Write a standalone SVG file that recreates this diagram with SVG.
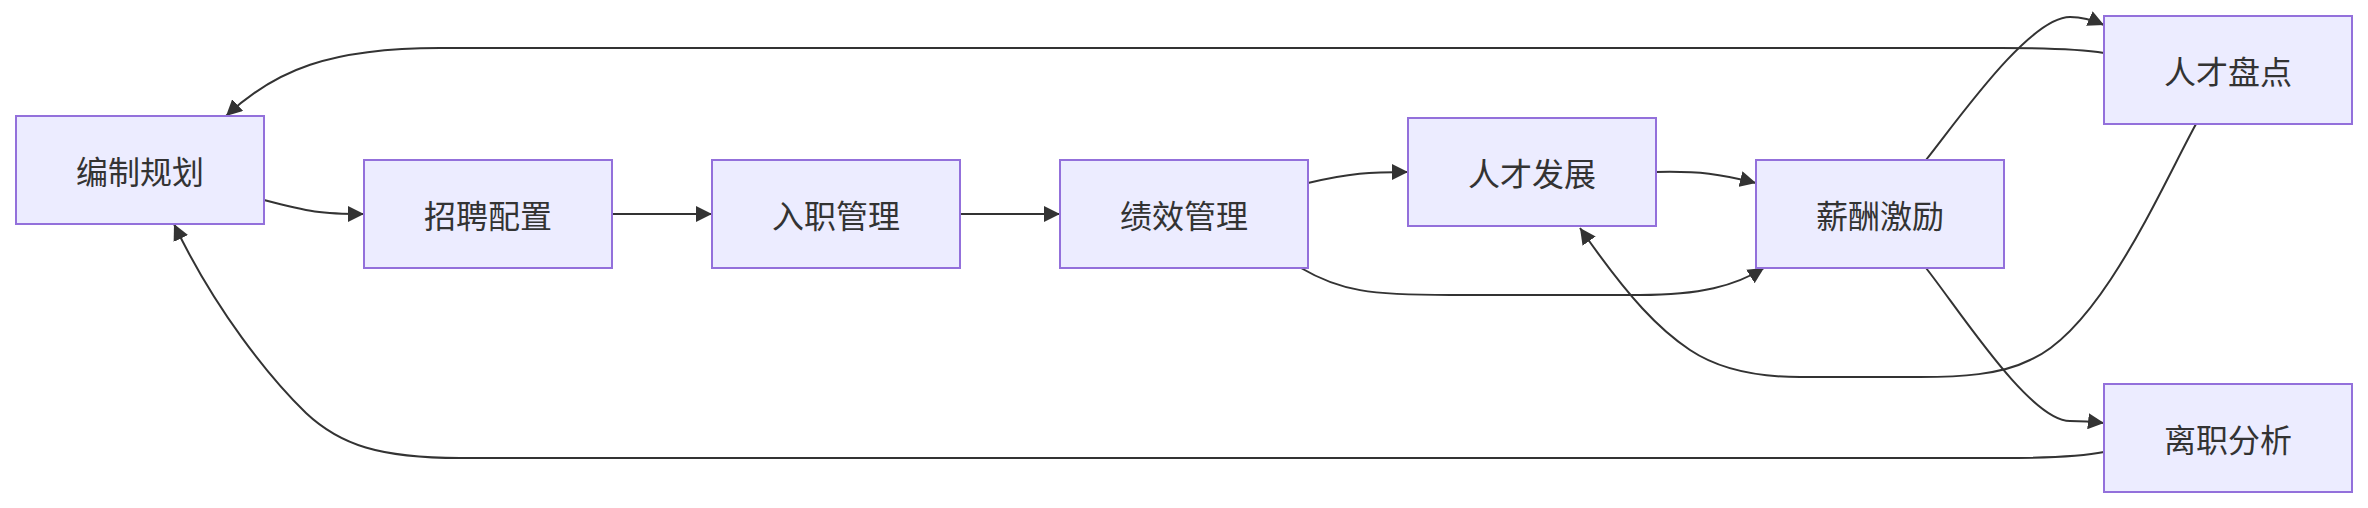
<svg xmlns="http://www.w3.org/2000/svg" width="2368" height="508" viewBox="0 0 2368 508">
<style>
.node rect{fill:#ECECFF;stroke:#9370DB;stroke-width:2}
.node text{font-family:"Noto Sans CJK SC","Noto Sans",sans-serif;font-size:32px;fill:#333;text-anchor:middle;dominant-baseline:central}
.edges path{fill:none;stroke:#333;stroke-width:2;marker-end:url(#arrow)}
</style>
<defs>
<marker id="arrow" viewBox="0 0 10 10" refX="10" refY="5" markerWidth="16" markerHeight="16" markerUnits="userSpaceOnUse" orient="auto">
<path d="M0,0 L10,5 L0,10 z" fill="#333"/>
</marker>
</defs>
<rect width="2368" height="508" fill="#fff"/>
<g class="edges">
<path d="M264,200 C310,212 320,214 364,214"/>
<path d="M612,214 L712,214"/>
<path d="M960,214 L1060,214"/>
<path d="M1308,183 C1350,173 1370,172 1408,172"/>
<path d="M1301,268 C1340,291 1370,295 1450,295 L1640,295 C1700,295 1735,286 1764,268"/>
<path d="M1656,172 C1700,171 1720,174 1756,183"/>
<path d="M1926,160 C1960,117 2030,17 2070,17 C2085,17 2095,21 2104,25"/>
<path d="M1926,268 C1960,311 2030,421 2070,421 C2085,421 2095,422 2104,423"/>
<path d="M2196,124 C2160,190 2100,330 2030,360 C2000,375 1960,377 1920,377 L1800,377 C1760,377 1720,370 1690,350 C1660,330 1630,300 1580,228"/>
<path d="M2104,53 C2080,49 2040,48 2000,48 L440,48 C330,48 275,70 226,116"/>
<path d="M2104,452 C2080,457 2040,458 2000,458 L460,458 C380,458 340,445 306,413 C270,378 215,310 174,224"/>
</g>
<g id="n1" class="node"><rect x="16" y="116" width="248" height="108"/><text x="140" y="170">编制规划</text></g>
<g id="n2" class="node"><rect x="364" y="160" width="248" height="108"/><text x="488" y="214">招聘配置</text></g>
<g id="n3" class="node"><rect x="712" y="160" width="248" height="108"/><text x="836" y="214">入职管理</text></g>
<g id="n4" class="node"><rect x="1060" y="160" width="248" height="108"/><text x="1184" y="214">绩效管理</text></g>
<g id="n5" class="node"><rect x="1408" y="118" width="248" height="108"/><text x="1532" y="172">人才发展</text></g>
<g id="n6" class="node"><rect x="1756" y="160" width="248" height="108"/><text x="1880" y="214">薪酬激励</text></g>
<g id="n7" class="node"><rect x="2104" y="16" width="248" height="108"/><text x="2228" y="70">人才盘点</text></g>
<g id="n8" class="node"><rect x="2104" y="384" width="248" height="108"/><text x="2228" y="438">离职分析</text></g>
</svg>
